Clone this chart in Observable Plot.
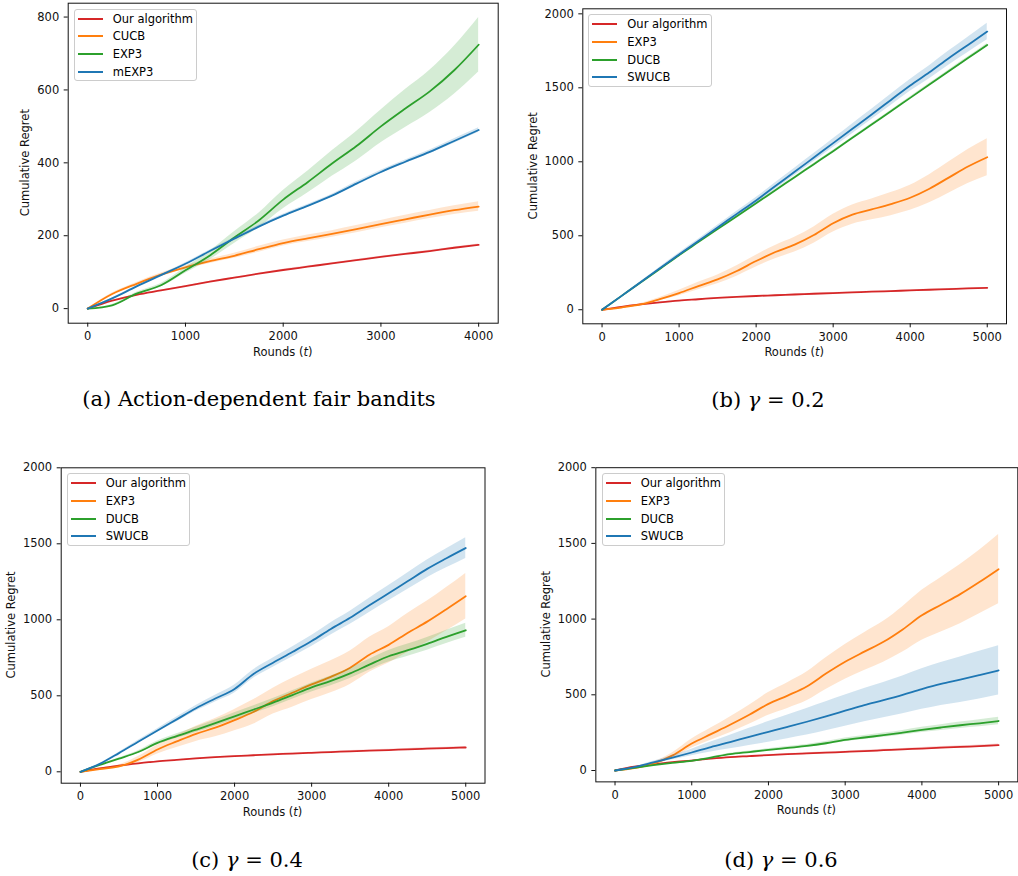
<!DOCTYPE html>
<html><head><meta charset="utf-8">
<script src="https://cdn.jsdelivr.net/npm/d3@7"></script>
<script src="https://cdn.jsdelivr.net/npm/@observablehq/plot@0.6"></script>
<style>
html,body{margin:0;padding:0;background:#fff;overflow:hidden;}
body{width:1018px;height:876px;position:relative;font-family:"DejaVu Sans",sans-serif;}
.panel{position:absolute;}
.legend{position:absolute;box-sizing:border-box;border:1px solid #cccccc;border-radius:3px;background:rgba(255,255,255,0.8);padding:0 3px;font:11.5px "DejaVu Sans",sans-serif;color:#000;}
.legend .row{height:17.7px;display:flex;align-items:center;white-space:nowrap;}
.legend .sw{width:25px;height:2px;margin-right:10px;flex:none;}
.cap{position:absolute;font-family:"DejaVu Serif",serif;font-size:21px;line-height:1.2;color:#000;white-space:nowrap;transform:translate(-50%,-50%);}
</style></head><body>
<script>
// ---------- data ----------
const roundsA = [0, 250, 500, 750, 1000, 1250, 1500, 1750, 2000, 2250, 2500, 2750, 3000, 3250, 3500, 3750, 4000];
const roundsB = [0, 250, 500, 750, 1000, 1250, 1500, 1750, 2000, 2250, 2500, 2750, 3000, 3250, 3500, 3750, 4000, 4250, 4500, 4750, 5000];

// (a) Action-dependent fair bandits
const aOurs     = [0, 22, 38, 50, 62, 74, 85, 96, 106, 115, 124, 133, 142, 150, 158, 167, 175];
const aOursSd   = [0, 1, 1, 1, 1, 1, 1, 1, 2, 2, 2, 2, 2, 2, 2, 2, 2];
const aCUCB     = [0, 40, 68, 93, 113, 130, 145, 163, 180, 193, 205, 218, 232, 245, 258, 270, 280];
const aCUCBSd   = [0, 3, 4, 5, 5, 6, 7, 8, 8, 9, 9, 10, 10, 11, 11, 12, 13];
const aEXP3     = [0, 9, 41, 64, 105, 146, 195, 242, 299, 347, 398, 446, 500, 549, 596, 654, 724];
const aEXP3Sd   = [0, 2, 4, 5, 8, 12, 16, 20, 25, 30, 35, 40, 45, 52, 58, 66, 75];
const amEXP3    = [0, 28, 61, 92, 123, 158, 192, 225, 255, 282, 310, 343, 375, 403, 430, 460, 490];
const amEXP3Sd  = [0, 1, 2, 2, 3, 3, 3, 4, 4, 4, 4, 5, 5, 5, 5, 6, 6];

// (b) gamma = 0.2
const bOurs     = [0, 20, 36, 50, 62, 71, 80, 87, 93, 98, 103, 108, 113, 117, 122, 126, 131, 135, 140, 144, 148];
const bOursSd   = [0, 1, 2, 2, 2, 2, 2, 2, 2, 2, 3, 3, 3, 3, 3, 3, 3, 3, 3, 3, 3];
const bEXP3     = [0, 15, 36, 72, 113, 160, 205, 262, 329, 390, 440, 505, 585, 643, 678, 714, 757, 818, 893, 968, 1031];
const bEXP3Sd   = [0, 3, 6, 10, 18, 25, 30, 35, 40, 45, 50, 55, 60, 65, 70, 78, 85, 95, 105, 115, 125];
const bDUCB     = [0, 92, 184, 276, 369, 457, 545, 632, 720, 808, 896, 984, 1072, 1162, 1252, 1342, 1432, 1522, 1612, 1701, 1790];
const bDUCBSd   = [0, 1, 2, 2, 3, 3, 4, 4, 5, 5, 5, 6, 6, 6, 7, 7, 8, 8, 9, 9, 10];
const bSWUCB    = [0, 92, 186, 280, 374, 465, 556, 648, 739, 836, 932, 1029, 1126, 1223, 1320, 1418, 1516, 1605, 1700, 1790, 1880];
const bSWUCBSd  = [0, 3, 5, 8, 10, 12, 15, 17, 20, 22, 25, 27, 30, 33, 35, 38, 40, 44, 48, 52, 56];

// (c) gamma = 0.4
const cOurs     = [0, 22, 40, 55, 68, 78, 88, 96, 103, 109, 115, 120, 125, 130, 135, 139, 143, 148, 152, 156, 160];
const cOursSd   = [0, 1, 1, 2, 2, 2, 3, 3, 3, 3, 4, 4, 4, 4, 5, 5, 5, 5, 6, 6, 6];
const cEXP3     = [0, 18, 35, 80, 147, 200, 250, 290, 340, 395, 465, 520, 575, 625, 685, 770, 835, 915, 988, 1070, 1155];
const cEXP3Sd   = [0, 5, 10, 20, 30, 40, 50, 60, 70, 80, 85, 95, 100, 105, 110, 115, 120, 128, 135, 142, 150];
const cDUCB     = [0, 45, 86, 130, 190, 235, 277, 320, 365, 410, 455, 505, 555, 598, 648, 705, 760, 800, 842, 888, 931];
const cDUCBSd   = [0, 3, 5, 8, 12, 15, 18, 20, 23, 25, 27, 28, 30, 32, 34, 36, 38, 40, 42, 44, 46];
const cSWUCB    = [0, 52, 123, 198, 272, 345, 418, 482, 545, 645, 718, 788, 860, 940, 1013, 1095, 1175, 1255, 1335, 1405, 1472];
const cSWUCBSd  = [0, 3, 6, 9, 12, 15, 18, 22, 26, 28, 30, 33, 36, 40, 43, 47, 50, 54, 58, 63, 68];

// (d) gamma = 0.6
const dOurs     = [0, 25, 40, 55, 66, 78, 88, 95, 102, 108, 113, 118, 123, 128, 134, 140, 145, 151, 156, 161, 167];
const dOursSd   = [0, 1, 2, 2, 3, 3, 3, 4, 4, 4, 5, 5, 5, 6, 6, 6, 7, 7, 7, 8, 8];
const dEXP3     = [0, 15, 45, 100, 178, 240, 302, 368, 440, 495, 555, 640, 718, 785, 850, 932, 1025, 1095, 1165, 1245, 1330];
const dEXP3Sd   = [0, 5, 10, 18, 30, 40, 52, 63, 75, 85, 95, 105, 115, 125, 135, 150, 165, 180, 195, 210, 228];
const dDUCB     = [0, 18, 35, 50, 64, 85, 108, 122, 136, 149, 162, 180, 202, 218, 233, 250, 268, 284, 299, 312, 327];
const dDUCBSd   = [0, 1, 2, 3, 4, 5, 6, 7, 8, 9, 10, 11, 12, 13, 14, 15, 17, 19, 21, 23, 25];
const dSWUCB    = [0, 22, 53, 85, 119, 155, 188, 222, 255, 288, 322, 358, 395, 432, 465, 500, 538, 572, 600, 630, 661];
const dSWUCBSd  = [0, 3, 8, 14, 22, 33, 45, 57, 68, 78, 88, 96, 103, 110, 117, 125, 134, 142, 150, 157, 163];

const ticksA_x = [0, 1000, 2000, 3000, 4000];
const ticksA_y = [0, 200, 400, 600, 800];
const ticksB_x = [0, 1000, 2000, 3000, 4000, 5000];
const ticksB_y = [0, 500, 1000, 1500, 2000];

const namesA = ["Our algorithm", "CUCB", "EXP3", "mEXP3"];
const namesB = ["Our algorithm", "EXP3", "DUCB", "SWUCB"];
const palette = ["#d62728", "#ff7f0e", "#2ca02c", "#1f77b4"];

const captions = [
  "(a) Action-dependent fair bandits",
  "(b) <i>γ</i> = 0.2",
  "(c) <i>γ</i> = 0.4",
  "(d) <i>γ</i> = 0.6"
];

// ---------- layout ----------
const panels = [
  {left:0, top:0, width:500, height:350, mL:67.7, mR:2.3, mT:2.7, mB:27.3, xd:[-200,4200], yd:[-40,838],
   rounds:roundsA, xt:ticksA_x, yt:ticksA_y, names:namesA, yLab:38.7,
   vals:[aOurs,aCUCB,aEXP3,amEXP3], sds:[aOursSd,aCUCBSd,aEXP3Sd,amEXP3Sd], cap:[259,400]},
  {left:500, top:0, width:518, height:350, mL:82.3, mR:12, mT:8.3, mB:26.7, xd:[-250,5250], yd:[-95,2034],
   rounds:roundsB, xt:ticksB_x, yt:ticksB_y, names:namesB, yLab:45.3,
   vals:[bOurs,bEXP3,bDUCB,bSWUCB], sds:[bOursSd,bEXP3Sd,bDUCBSd,bSWUCBSd], cap:[768,401]},
  {left:0, top:440, width:500, height:370, mL:60.7, mR:15.5, mT:27.3, mB:27.3, xd:[-250,5250], yd:[-75,2000],
   rounds:roundsB, xt:ticksB_x, yt:ticksB_y, names:namesB, yLab:45.7,
   vals:[cOurs,cEXP3,cDUCB,cSWUCB], sds:[cOursSd,cEXP3Sd,cDUCBSd,cSWUCBSd], cap:[247,860.5]},
  {left:500, top:440, width:520, height:370, mL:95.7, mR:0.7, mT:27.3, mB:27.3, xd:[-250,5250], yd:[-75,2000],
   rounds:roundsB, xt:ticksB_x, yt:ticksB_y, names:namesB, yLab:46,
   vals:[dOurs,dEXP3,dDUCB,dSWUCB], sds:[dOursSd,dEXP3Sd,dDUCBSd,dSWUCBSd], cap:[781,860.5]}
];

panels.forEach((p, pi) => {
  const marks = [];
  p.names.forEach((name, si) => {
    const rows = p.rounds.map((t, i) => ({t, v: p.vals[si][i], lo: p.vals[si][i] - p.sds[si][i], hi: p.vals[si][i] + p.sds[si][i]}));
    marks.push(Plot.lineY(rows, {x: "t", y: "v", stroke: palette[si], strokeWidth: 1.8, curve: "monotone-x"}));
    marks.push(Plot.areaY(rows, {x: "t", y1: "lo", y2: "hi", fill: palette[si], fillOpacity: 0.2, curve: "monotone-x"}));
  });
  marks.push(Plot.frame({stroke: "#111", strokeWidth: 1}));
  marks.push(Plot.axisX({ticks: p.xt, tickSize: 4, tickPadding: 5, tickFormat: "d", label: null}));
  marks.push(Plot.axisY({ticks: p.yt, tickSize: 4, tickPadding: 5, tickFormat: "d", label: null}));

  const svg = Plot.plot({
    width: p.width, height: p.height,
    marginLeft: p.mL, marginRight: p.mR, marginTop: p.mT, marginBottom: p.mB,
    x: {domain: p.xd, label: null},
    y: {domain: p.yd, label: null},
    style: {fontFamily: "DejaVu Sans", fontSize: "11.5px", color: "#111", background: "transparent", overflow: "visible"},
    marks
  });
  const wrap = document.createElement("div");
  wrap.className = "panel";
  wrap.style.left = p.left + "px";
  wrap.style.top = p.top + "px";
  wrap.appendChild(svg);
  document.body.appendChild(wrap);

  const fl = p.mL, fr = p.width - p.mR, ft = p.mT, fb = p.height - p.mB;
  const s = d3.select(svg);
  const xl = s.append("text").attr("x", (fl + fr) / 2).attr("y", fb + 33)
    .attr("text-anchor", "middle").attr("fill", "#111").attr("font-size", "11.5px");
  xl.append("tspan").text("Rounds (");
  xl.append("tspan").attr("font-style", "italic").text("t");
  xl.append("tspan").text(")");
  s.append("text").attr("transform", `translate(${fl - p.yLab},${(ft + fb) / 2}) rotate(-90)`)
    .attr("text-anchor", "middle").attr("fill", "#111").attr("font-size", "11.5px").text("Cumulative Regret");

  // legend
  const lg = document.createElement("div");
  lg.className = "legend";
  lg.style.left = (p.left + p.mL + 6) + "px";
  lg.style.top = (p.top + p.mT + 6) + "px";
  p.names.forEach((name, si) => {
    const r = document.createElement("div"); r.className = "row";
    const sw = document.createElement("span"); sw.className = "sw"; sw.style.background = palette[si];
    const tx = document.createElement("span"); tx.textContent = name;
    r.appendChild(sw); r.appendChild(tx); lg.appendChild(r);
  });
  document.body.appendChild(lg);

  // caption
  const cp = document.createElement("div");
  cp.className = "cap";
  cp.style.left = p.cap[0] + "px";
  cp.style.top = p.cap[1] + "px";
  cp.innerHTML = captions[pi];
  document.body.appendChild(cp);
});
</script></body></html>
